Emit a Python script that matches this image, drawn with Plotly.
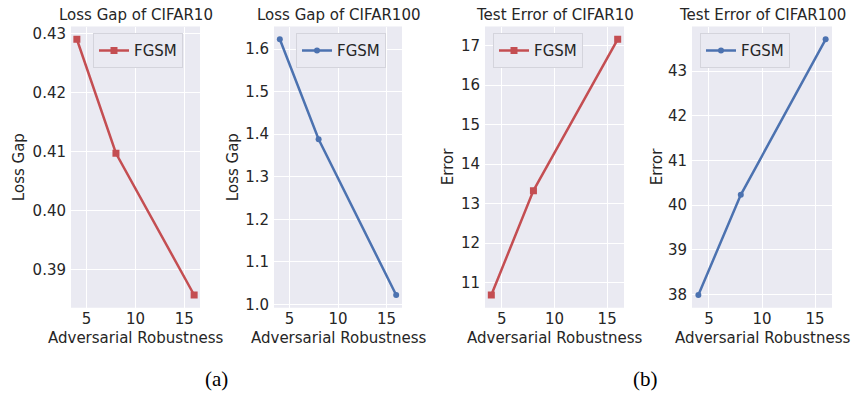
import plotly.graph_objects as go

eps = [4, 8, 16]
loss_gap_c10 = [0.4290, 0.4097, 0.3857]
loss_gap_c100 = [1.623, 1.388, 1.022]
err_c10 = [10.69, 13.33, 17.16]
err_c100 = [37.99, 40.23, 43.71]

titles = ["Loss Gap of CIFAR10", "Loss Gap of CIFAR100", "Test Error of CIFAR10", "Test Error of CIFAR100"]
ylabels = ["Loss Gap", "Loss Gap", "Error", "Error"]
xlabel = "Adversarial Robustness"
series = [loss_gap_c10, loss_gap_c100, err_c10, err_c100]
colors = ["#C44E52", "#4C72B0", "#C44E52", "#4C72B0"]
symbols = ["square", "circle", "square", "circle"]
msizes = [7, 6, 7, 6]
ydticks = [0.01, 0.1, 1, 1]
ytickfmt = [".2f", ".1f", "d", "d"]
caption_labels = ["(a)", "(b)"]

W, H = 854, 400


def px(x):
    return x / W


def py(y):
    return 1 - y / H


# plot areas in screen pixels
xpix = [(71, 200), (274, 402), (485, 624), (692, 832)]
ytop, ybot = 25, 312
ylabel_x = [19, 233, 448, 657]
legend_left = [93, 296, 493, 700]

FONT = "DejaVu Sans"
TXT = "#262626"

fig = go.Figure()
layout = dict(
    width=W, height=H, margin=dict(l=0, r=0, t=0, b=0),
    paper_bgcolor="white", plot_bgcolor="#EAEAF2",
    font=dict(family=FONT, size=15, color=TXT),
    showlegend=True,
)
annotations = []
for i in range(4):
    ax = "" if i == 0 else str(i + 1)
    xa = "x" + ax
    ya = "y" + ax
    lg = "legend" if i == 0 else "legend" + str(i + 1)
    ys = series[i]
    fig.add_trace(go.Scatter(
        x=eps, y=ys, mode="lines+markers", name="FGSM",
        line=dict(color=colors[i], width=2.5),
        marker=dict(symbol=symbols[i], size=msizes[i], color=colors[i]),
        xaxis=xa, yaxis=ya, legend=lg,
    ))
    lo, hi = min(ys), max(ys)
    pad = (hi - lo) * 0.05
    x0, x1 = xpix[i]
    layout["xaxis" + ax] = dict(
        domain=[px(x0), px(x1)], anchor=ya, range=[3.4, 16.6], dtick=5, tick0=0,
        showgrid=True, gridcolor="white", gridwidth=1, zeroline=False,
        showline=False, ticks="", tickfont=dict(size=15, color=TXT),
        ticklabelstandoff=0,
    )
    layout["yaxis" + ax] = dict(
        domain=[py(ybot), py(ytop)], anchor=xa, range=[lo - pad, hi + pad],
        dtick=ydticks[i], tick0=0, tickformat=ytickfmt[i],
        showgrid=True, gridcolor="white", gridwidth=1, zeroline=False,
        showline=False, ticks="", tickfont=dict(size=15, color=TXT),
        ticklabelstandoff=4,
    )
    annotations.append(dict(
        text=ylabels[i], x=px(ylabel_x[i]), y=py((ytop + ybot) / 2),
        xref="paper", yref="paper", textangle=-90, showarrow=False,
        xanchor="center", yanchor="middle", font=dict(size=15, color=TXT),
    ))
    annotations.append(dict(
        text=xlabel, x=px((x0 + x1) / 2), y=py(343),
        xref="paper", yref="paper", showarrow=False,
        xanchor="center", yanchor="middle", font=dict(size=15, color=TXT),
    ))
    annotations.append(dict(
        text=titles[i], x=px((x0 + x1) / 2), y=py(13),
        xref="paper", yref="paper", showarrow=False,
        xanchor="center", yanchor="middle", font=dict(size=15, color=TXT),
    ))
    layout[lg] = dict(
        x=px(legend_left[i]), y=py(32), xanchor="left", yanchor="top",
        bgcolor="#EAEAF2", bordercolor="#D4D4DC", borderwidth=1,
        font=dict(size=15, color=TXT), itemwidth=30,
    )

for lab, cx in zip(caption_labels, [216, 645]):
    annotations.append(dict(text=lab, x=px(cx), y=py(385), xref="paper", yref="paper",
                            xanchor="center", yanchor="middle", showarrow=False,
                            font=dict(family="Liberation Serif", size=21, color="black")))
layout["annotations"] = annotations
fig.update_layout(**layout)
fig.write_html(
    "out.html",
    config={"displayModeBar": False},
    post_script="document.body.style.margin='0';document.body.style.overflow='hidden';",
)
